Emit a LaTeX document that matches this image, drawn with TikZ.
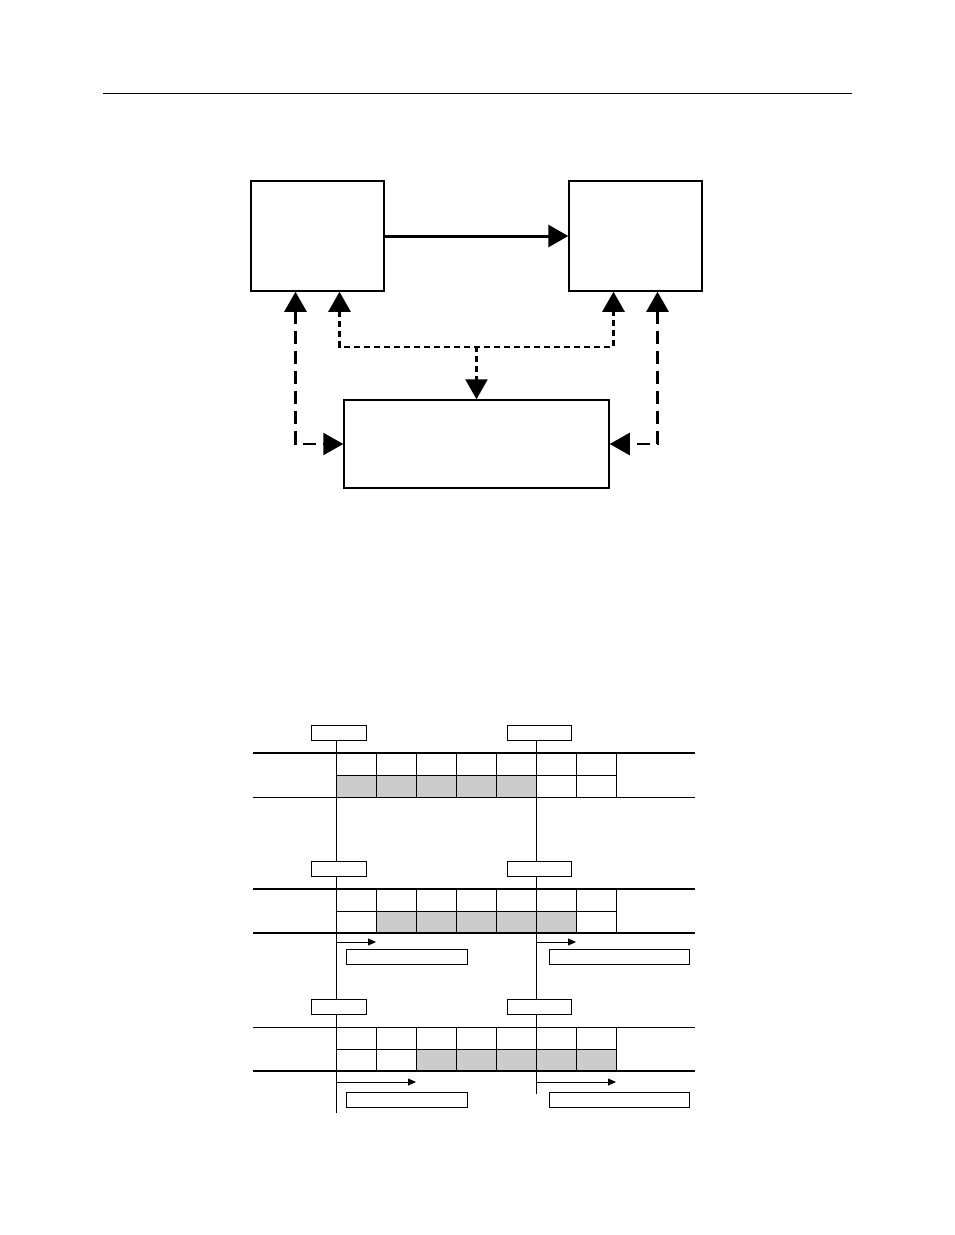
\documentclass[tikz,border=0pt]{standalone}
\usetikzlibrary{arrows.meta}
\tikzset{
  block/.style={draw,line width=1.5pt,inner sep=0pt,minimum width=133pt,minimum height=110pt},
  bigtip/.style={-{Triangle[length=20pt,width=22pt]}},
  twotips/.style={{Triangle[length=20pt,width=22pt]}-{Triangle[length=20pt,width=22pt]}},
  dashlink/.style={line width=2.5pt,dash pattern=on 13pt off 7pt},
  dotlink/.style={line width=2.5pt,dash pattern=on 6pt off 4pt},
  tag/.style={draw,fill=white,line width=0.8pt,inner sep=0pt,minimum height=15pt},
  smalltip/.style={-{Triangle[length=8pt,width=7pt]}},
  cellgray/.style={fill=black!20}
}
\begin{document}
\begin{tikzpicture}[x=1pt,y=-1pt]
	\useasboundingbox (0,0) rectangle (954,1235);
	\draw[line width=1pt] (103,93) -- (852,93);
	% upper diagram
	\node[block] (src) at (317.5,236) {};
	\node[block] (dst) at (635.5,236) {};
	\node[block,minimum width=265pt,minimum height=88pt] (ctrl) at (476.5,444) {};
	\draw[line width=3pt,bigtip] (src.east) -- (dst.west);
	\draw[dashlink,twotips] ([xshift=-22pt]src.south) |- (ctrl.west);
	\draw[dashlink,twotips] ([xshift=22pt]dst.south) |- (ctrl.east);
	\draw[dotlink,twotips] ([xshift=22pt]src.south) -- ++(0,55) -| ([xshift=-22pt]dst.south);
	\coordinate (split) at (476.5,346);
	\draw[dotlink,bigtip] (split) -- (ctrl.north);
	% timing rows
	\draw[line width=0.8pt] (336,740) -- (336,1113);
	\draw[line width=0.8pt] (536,740) -- (536,1094);
	\foreach \dy/\first/\tw/\bw [count=\r] in {0/1/2pt/0.8pt,136/2/2pt/2pt,274/3/0.8pt/2pt}{
		\foreach \i in {0,...,4}
			\fill[cellgray] ({336+40*(\first+\i-1)},{775+\dy}) rectangle ++(40,22);
		\draw[line width=\tw] (253,{753+\dy}) -- (695,{753+\dy});
		\draw[line width=\bw] (253,{797+\dy}) -- (695,{797+\dy});
		\draw[line width=0.8pt] (336,{775+\dy}) -- (616,{775+\dy});
		\foreach \x in {336,376,416,456,496,536,576,616}
			\draw[line width=0.8pt] (\x,{753+\dy}) -- (\x,{797+\dy});
		\node[tag,minimum width=55pt] (tagl\r) at (338.5,{732.5+\dy}) {};
		\node[tag,minimum width=64pt] (tagr\r) at (539,{732.5+\dy}) {};
	}
	\draw[line width=0.8pt,smalltip] (336,942) -- (376,942);
	\draw[line width=0.8pt,smalltip] (536,942) -- (576,942);
	\node[tag,minimum width=121pt] (notel2) at (406.5,957) {};
	\node[tag,minimum width=140pt] (noter2) at (619,957) {};
	\draw[line width=0.8pt,smalltip] (336,1082) -- (416,1082);
	\draw[line width=0.8pt,smalltip] (536,1082) -- (616,1082);
	\node[tag,minimum width=121pt] (notel3) at (406.5,1099.5) {};
	\node[tag,minimum width=140pt] (noter3) at (619,1099.5) {};
\end{tikzpicture}
\end{document}
